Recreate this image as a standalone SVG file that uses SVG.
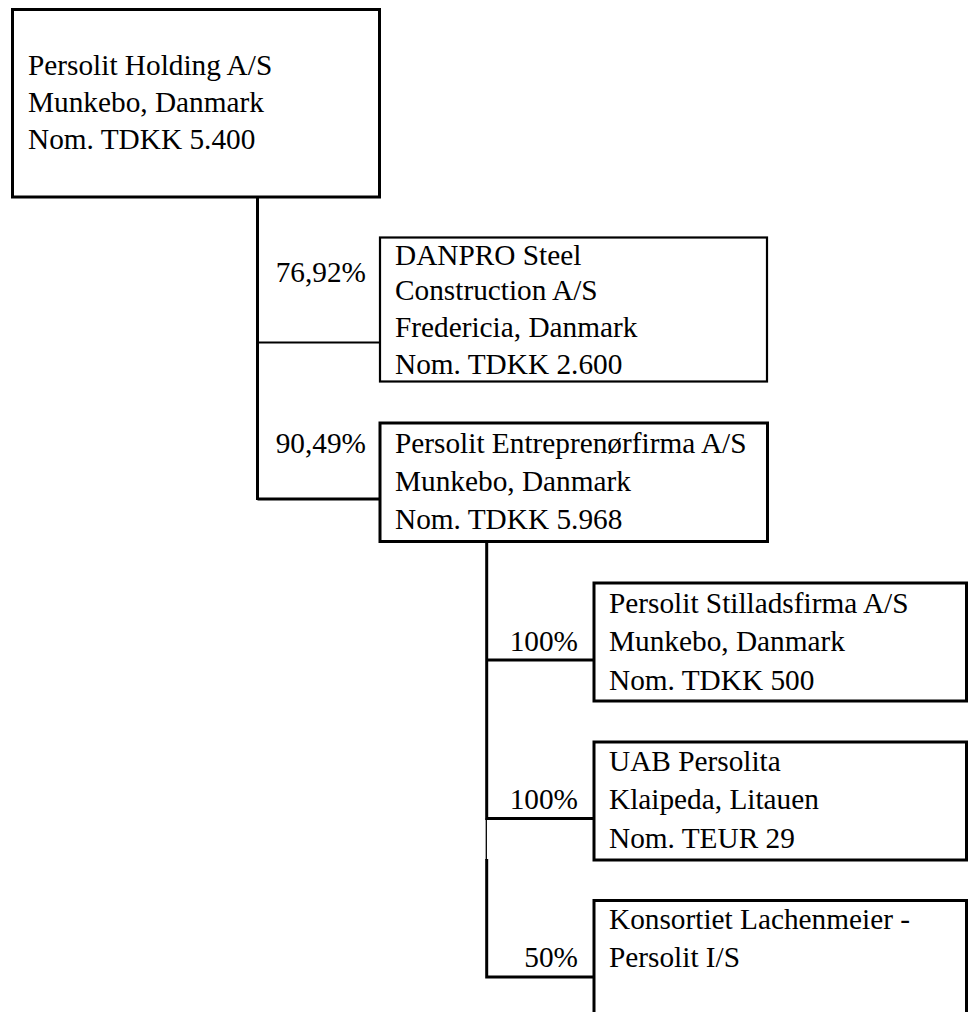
<svg xmlns="http://www.w3.org/2000/svg" width="972" height="1012" viewBox="0 0 972 1012">
<style>
.box{fill:#fff;stroke:#000;stroke-width:3}
.thin{stroke-width:2.2}
.pct{text-anchor:end}
.c{stroke:#000;stroke-width:3;fill:none}
</style>
<rect width="972" height="1012" fill="#fff"/>
<g id="connectors">
<path class="c" d="M257.5,197 V500 M257.5,499 H380"/>
<path class="c" style="stroke-width:2.2" d="M257.5,342.5 H380"/>
<path class="c" d="M486.7,541 V818.5 H594"/>
<path class="c" d="M486.7,660 H594"/>
<path class="c" style="stroke-width:1.3" d="M486.3,818 V860"/>
<path class="c" d="M486.7,859 V977 H594"/>
</g>
<g font-family="Liberation Serif, Times New Roman, Times, serif" font-size="29.3" fill="#000">
<g id="n1">
<rect class="box" x="12.5" y="9.5" width="367" height="187.5"/>
<text x="28" y="75">Persolit Holding A/S</text>
<text x="28" y="112">Munkebo, Danmark</text>
<text x="28" y="149">Nom. TDKK 5.400</text>
</g>
<g id="n2">
<rect class="box thin" x="380" y="237.5" width="387" height="144"/>
<text class="pct" x="366" y="282">76,92%</text>
<text x="395" y="265">DANPRO Steel</text>
<text x="395" y="300">Construction A/S</text>
<text x="395" y="337">Fredericia, Danmark</text>
<text x="395" y="374">Nom. TDKK 2.600</text>
</g>
<g id="n3">
<rect class="box" x="380" y="423" width="387.5" height="118.5"/>
<text class="pct" x="366" y="453">90,49%</text>
<text x="395" y="453">Persolit Entreprenørfirma A/S</text>
<text x="395" y="491">Munkebo, Danmark</text>
<text x="395" y="529">Nom. TDKK 5.968</text>
</g>
<g id="n4">
<rect class="box" x="594" y="583" width="372.5" height="118"/>
<text class="pct" x="578" y="651">100%</text>
<text x="609" y="613">Persolit Stilladsfirma A/S</text>
<text x="609" y="651">Munkebo, Danmark</text>
<text x="609" y="690">Nom. TDKK 500</text>
</g>
<g id="n5">
<rect class="box" x="594" y="742" width="372.5" height="118"/>
<text class="pct" x="578" y="809">100%</text>
<text x="609" y="771">UAB Persolita</text>
<text x="609" y="809">Klaipeda, Litauen</text>
<text x="609" y="848">Nom. TEUR 29</text>
</g>
<g id="n6">
<path class="box" d="M594,1015 V900.5 H966.5 V1015"/>
<text class="pct" x="578" y="967">50%</text>
<text x="609" y="929">Konsortiet Lachenmeier -</text>
<text x="609" y="967">Persolit I/S</text>
</g>
</g>
</svg>
